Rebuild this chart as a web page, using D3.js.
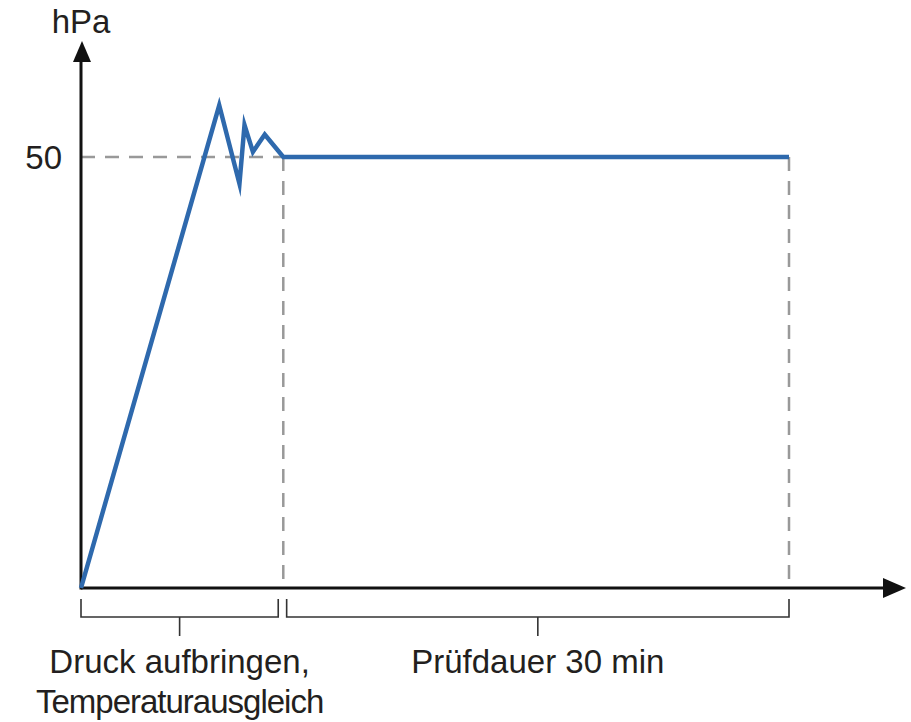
<!DOCTYPE html>
<html>
<head>
<meta charset="utf-8">
<script src="https://cdn.jsdelivr.net/npm/d3@7"></script>
<style>
  html, body { margin: 0; padding: 0; background: #fff; }
  svg { display: block; }
  text { font-family: "Liberation Sans", Arial, Helvetica, sans-serif; fill: #231f20; }
</style>
</head>
<body>
<svg id="chart" width="911" height="722"></svg>
<script>
// Time in minutes, pressure in hPa
const timeMin   = [0, 8.2, 9.4, 9.7, 10.2, 10.9, 12, 42];
const pressure  = [0, 56.0, 46.9, 53.7, 50.6, 52.6, 50, 50];
const targetPressure = 50;
const yTicks = [50];
const phases = [
  { start: 0,  end: 11.7, label: ["Druck aufbringen,", "Temperaturausgleich"] },
  { start: 12.2, end: 42, label: ["Prüfdauer 30 min"] }
];
const markerTimes = [12, 42];
const yUnit = "hPa";

const svg = d3.select("#chart");
const x0 = 81, y0 = 588;
const x = d3.scaleLinear().domain([0, 42]).range([x0, 789]);
const y = d3.scaleLinear().domain([0, 50]).range([y0, 157]);
const xEnd = 906, yTop = 41;
const fs = 33;

// dashed reference lines
const grey = "#999999";
svg.append("line")
  .attr("x1", x0).attr("x2", x(markerTimes[0]))
  .attr("y1", y(targetPressure)).attr("y2", y(targetPressure))
  .attr("stroke", grey).attr("stroke-width", 2.5).attr("stroke-dasharray", "14,10");
markerTimes.forEach(t => {
  svg.append("line")
    .attr("x1", x(t)).attr("x2", x(t))
    .attr("y1", y(targetPressure)).attr("y2", y0)
    .attr("stroke", grey).attr("stroke-width", 2.5).attr("stroke-dasharray", "14,10");
});

// axes
svg.append("line").attr("x1", x0).attr("x2", xEnd - 20).attr("y1", y0).attr("y2", y0)
  .attr("stroke", "#111").attr("stroke-width", 3);
svg.append("line").attr("x1", x0).attr("x2", x0).attr("y1", y0 + 1.5).attr("y2", yTop + 18)
  .attr("stroke", "#111").attr("stroke-width", 3);
svg.append("path").attr("d", `M${xEnd},${y0} L${xEnd - 23},${y0 - 10} L${xEnd - 23},${y0 + 10} Z`).attr("fill", "#111");
svg.append("path").attr("d", `M${x0 + 1},${yTop} L${x0 - 8},${yTop + 21} L${x0 + 10},${yTop + 21} Z`).attr("fill", "#111");

// y tick label
yTicks.forEach(v => {
  svg.append("text").attr("x", 62).attr("y", y(v)).attr("dy", "0.36em")
    .attr("text-anchor", "end").attr("font-size", fs).text(v);
});
svg.append("text").attr("x", 81).attr("y", 33).attr("text-anchor", "middle")
  .attr("font-size", fs).text(yUnit);

// pressure curve
const line = d3.line().x((d, i) => x(timeMin[i])).y(d => y(d));
svg.append("path").datum(pressure)
  .attr("d", line)
  .attr("fill", "none").attr("stroke", "#2e69ad").attr("stroke-width", 4.5)
  .attr("stroke-linejoin", "miter").attr("stroke-miterlimit", 10);

// phase brackets
const bTop = 599, bBot = 617, bTick = 636;
phases.forEach(p => {
  const xa = x(p.start), xb = x(p.end), xm = (xa + xb) / 2;
  svg.append("path")
    .attr("d", `M${xa},${bTop} V${bBot} H${xb} V${bTop} M${xm},${bBot} V${bTick}`)
    .attr("fill", "none").attr("stroke", "#333").attr("stroke-width", 1.6);
  p.label.forEach((l, i) => {
    svg.append("text").attr("x", xm).attr("y", 673 + i * 40)
      .attr("text-anchor", "middle").attr("font-size", fs)
      .attr("letter-spacing", l.length > 18 ? "-1px" : "0px")
      .text(l);
  });
});
</script>
</body>
</html>
